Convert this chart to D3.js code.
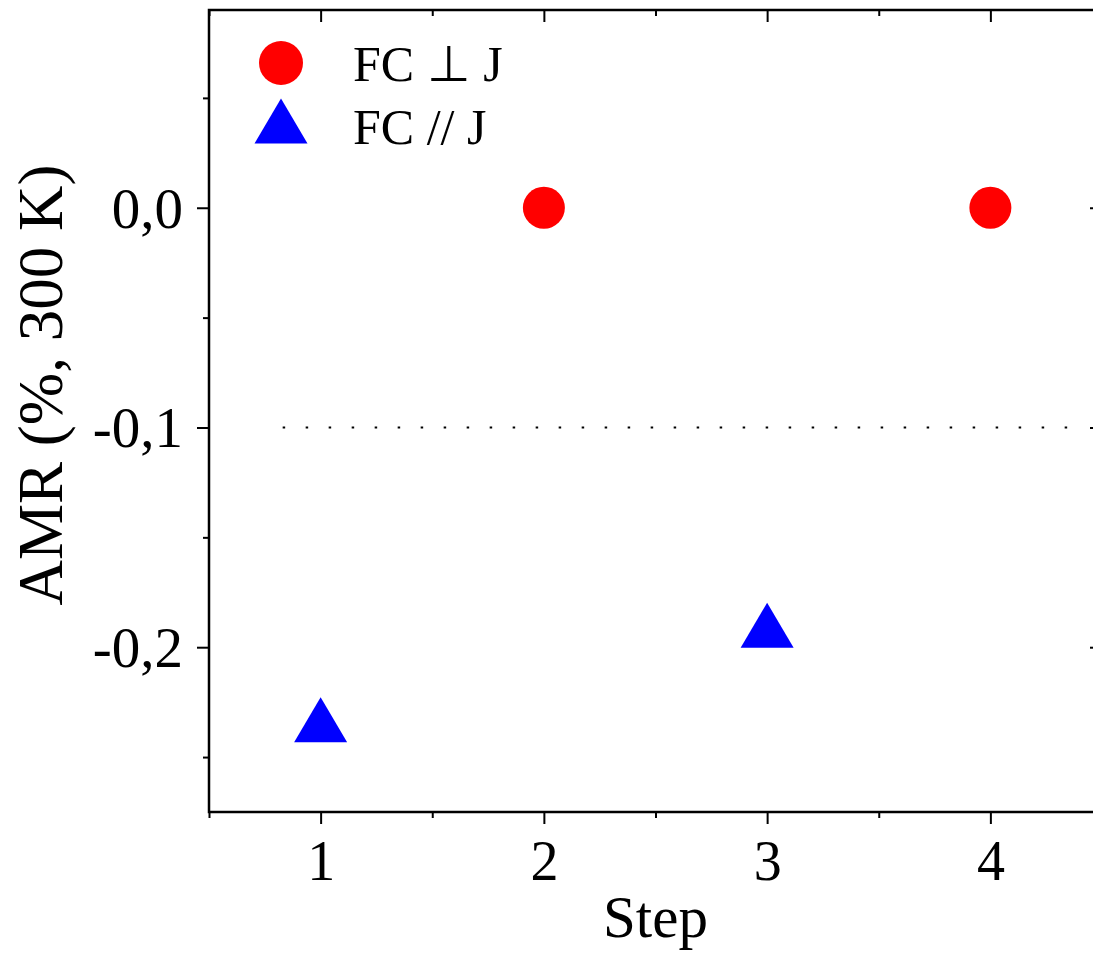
<!DOCTYPE html>
<html>
<head>
<meta charset="utf-8">
<script src="https://cdn.jsdelivr.net/npm/d3@7"></script>
<style>
  html, body { margin: 0; padding: 0; background: #fff; }
  svg { display: block; }
  text { font-family: "Liberation Serif", "Times New Roman", serif; fill: #000; }
</style>
</head>
<body>
<div id="chart"></div>
<script>
// -----------------------
// Data
// -----------------------
const perpSteps = [2, 4];          // FC ⊥ J
const perpAMR = [0.0, 0.0];
const paraSteps = [1, 3];          // FC // J
const paraAMR = [-0.233, -0.19];

const xTicks = [1, 2, 3, 4];
const yTicks = [0.0, -0.1, -0.2];
const yTickLabels = ["0,0", "-0,1", "-0,2"];
const refLine = { value: -0.1, from: 0.83, to: 4.43 };

const legendItems = ["FC \u22A5 J", "FC // J"];

// -----------------------
// Layout
// -----------------------
const width = 1093, height = 963;
const plot = { left: 209, right: 1102, top: 10, bottom: 812 };

const svg = d3.select("#chart")
  .append("svg")
  .attr("width", width)
  .attr("height", height);

const x = d3.scaleLinear().domain([0.5, 4.5]).range([plot.left, plot.right]);
const y = d3.scaleLinear().domain([-0.275, 0.09]).range([plot.bottom, plot.top]);

const xMinor = d3.range(0.5, 4.51, 0.5).filter(v => !xTicks.includes(v));
const yMinor = [0.05, -0.05, -0.15, -0.25];

const axisStroke = 2.5;

// frame
svg.append("rect")
  .attr("x", plot.left)
  .attr("y", plot.top)
  .attr("width", plot.right - plot.left)
  .attr("height", plot.bottom - plot.top)
  .attr("fill", "none")
  .attr("stroke", "#000")
  .attr("stroke-width", axisStroke);

function styleAxis(g) {
  g.select(".domain").remove();
  g.selectAll(".tick line").attr("stroke", "#000").attr("stroke-width", 2);
}

// bottom axis (outward ticks)
svg.append("g")
  .attr("transform", `translate(0,${plot.bottom})`)
  .call(d3.axisBottom(x).tickValues(xTicks).tickSize(12).tickPadding(16).tickFormat(d3.format("d")))
  .call(styleAxis)
  .call(g => g.selectAll("text").attr("font-size", 56).attr("font-family", "Liberation Serif"));
svg.append("g")
  .attr("transform", `translate(0,${plot.bottom})`)
  .call(d3.axisBottom(x).tickValues(xMinor).tickSize(6).tickFormat(""))
  .call(styleAxis);

// top axis (inward ticks)
svg.append("g")
  .attr("transform", `translate(0,${plot.top})`)
  .call(d3.axisBottom(x).tickValues(xTicks).tickSize(12).tickFormat(""))
  .call(styleAxis);
svg.append("g")
  .attr("transform", `translate(0,${plot.top})`)
  .call(d3.axisBottom(x).tickValues(xMinor).tickSize(6).tickFormat(""))
  .call(styleAxis);

// left axis (outward ticks)
svg.append("g")
  .attr("transform", `translate(${plot.left},0)`)
  .call(d3.axisLeft(y).tickValues(yTicks).tickSize(12).tickPadding(14)
    .tickFormat((d, i) => yTickLabels[i]))
  .call(styleAxis)
  .call(g => g.selectAll("text").attr("font-size", 57).attr("font-family", "Liberation Serif").attr("dy", "0.34em"));
svg.append("g")
  .attr("transform", `translate(${plot.left},0)`)
  .call(d3.axisLeft(y).tickValues(yMinor).tickSize(6).tickFormat(""))
  .call(styleAxis);

// right axis (inward ticks)
svg.append("g")
  .attr("transform", `translate(${plot.right},0)`)
  .call(d3.axisLeft(y).tickValues(yTicks).tickSize(12).tickFormat(""))
  .call(styleAxis);
svg.append("g")
  .attr("transform", `translate(${plot.right},0)`)
  .call(d3.axisLeft(y).tickValues(yMinor).tickSize(6).tickFormat(""))
  .call(styleAxis);

// dotted reference line
svg.append("line")
  .attr("x1", x(refLine.from))
  .attr("x2", x(refLine.to))
  .attr("y1", y(refLine.value))
  .attr("y2", y(refLine.value))
  .attr("stroke", "#000")
  .attr("stroke-width", 1.8)
  .attr("stroke-dasharray", "2.5,20.5");

// axis titles
svg.append("text")
  .attr("x", (plot.left + plot.right) / 2)
  .attr("y", 937)
  .attr("text-anchor", "middle")
  .attr("font-size", 59)
  .text("Step");

svg.append("text")
  .attr("transform", `translate(62,385) rotate(-90)`)
  .attr("text-anchor", "middle")
  .attr("font-size", 63)
  .text("AMR (%, 300 K)");

// markers
const triPath = "M0,-22.5L26.5,22.5L-26.5,22.5Z";
const circleR = 21;

svg.selectAll(".perp")
  .data(perpSteps.map((s, i) => ({ s, v: perpAMR[i] })))
  .join("circle")
  .attr("class", "perp")
  .attr("cx", d => x(d.s))
  .attr("cy", d => y(d.v))
  .attr("r", circleR)
  .attr("fill", "#ff0000");

svg.selectAll(".para")
  .data(paraSteps.map((s, i) => ({ s, v: paraAMR[i] })))
  .join("path")
  .attr("class", "para")
  .attr("transform", d => `translate(${x(d.s)},${y(d.v)})`)
  .attr("d", triPath)
  .attr("fill", "#0000ff");

// legend
const legend = svg.append("g");
legend.append("circle").attr("cx", 281).attr("cy", 63).attr("r", 22).attr("fill", "#ff0000");
legend.append("path").attr("transform", "translate(281,121)").attr("d", triPath).attr("fill", "#0000ff");
legendItems.forEach((t, i) => {
  legend.append("text")
    .attr("x", 353)
    .attr("y", 81 + i * 63)
    .attr("font-size", 50)
    .text(t);
});
</script>
</body>
</html>
